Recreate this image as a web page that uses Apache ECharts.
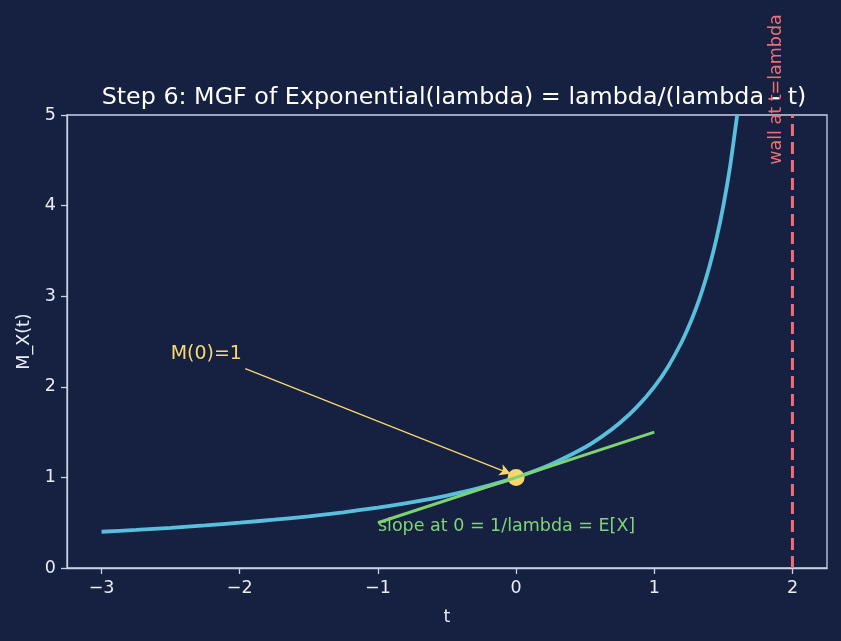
<!DOCTYPE html>
<html>
<head>
<meta charset="utf-8">
<script src="https://cdn.jsdelivr.net/npm/echarts@6/dist/echarts.min.js"></script>
<style>
html,body{margin:0;padding:0;background:#162040;}
#chart{width:841px;height:641px;}
</style>
</head>
<body>
<div id="chart"></div>
<script>
// MGF curve samples
var tValues = [-3, -2.75, -2.5, -2.25, -2, -1.75, -1.5, -1.25, -1, -0.75, -0.5, -0.25, 0, 0.25, 0.5, 0.625, 0.75, 0.875, 1, 1.1, 1.2, 1.25, 1.3, 1.35, 1.4, 1.45, 1.5, 1.55, 1.6];
var mValues = [0.4, 0.421, 0.444, 0.471, 0.5, 0.533, 0.571, 0.615, 0.667, 0.727, 0.8, 0.889, 1, 1.143, 1.333, 1.455, 1.6, 1.778, 2, 2.222, 2.5, 2.667, 2.857, 3.077, 3.333, 3.636, 4, 4.444, 5];
// tangent (slope) line end points
var slopeT = [-1, 1];
var slopeY = [0.5, 1.5];
// highlighted point M(0)=1
var pointT = [0];
var pointY = [1];
// wall at t = lambda
var wallT = 2;
var wallY = [0, 5];
// annotation texts and anchors
var titleText = 'Step 6: MGF of Exponential(lambda) = lambda/(lambda - t)';
var xName = 't';
var yName = 'M_X(t)';
var m0Label = 'M(0)=1';
var m0Anchor = [-2.5, 2.36];
var arrowFrom = [-1.96, 2.2];
var arrowTo = [-0.04, 1.04];
var slopeLabel = 'slope at 0 = 1/lambda = E[X]';
var slopeAnchor = [-1.0, 0.464];
var wallLabel = 'wall at t=lambda';
var wallAnchor = [1.884, 4.45];

var AX = '#c9d1e6';
var FONT = 'DejaVu Sans';
function fmtMinus(v){ return String(v).replace('-', '\u2212'); }

var curveData = tValues.map(function(t, i){ return [t, mValues[i]]; });
var slopeData = slopeT.map(function(t, i){ return [t, slopeY[i]]; });
var pointData = pointT.map(function(t, i){ return [t, pointY[i]]; });

var chart = echarts.init(document.getElementById('chart'), null, {renderer: 'canvas'});
chart.setOption({
  backgroundColor: '#162040',
  animation: false,
  title: {
    text: titleText,
    left: 449, top: 81, textAlign: 'center',
    textStyle: {color: '#ffffff', fontFamily: FONT, fontSize: 23.8, fontWeight: 'normal'}
  },
  grid: {left: 67, right: 14, top: 115, bottom: 73, show: true, borderColor: AX, borderWidth: 1.3, backgroundColor: 'transparent'},
  xAxis: {
    type: 'value', min: -3.25, max: 2.25, splitNumber: 5,
    name: xName, nameLocation: 'middle', nameGap: 40,
    nameTextStyle: {color: '#e8ecf4', fontFamily: FONT, fontSize: 17.5},
    axisLine: {show: true, onZero: false, lineStyle: {color: AX, width: 1.3}},
    axisTick: {show: true, length: 6, inside: false, lineStyle: {color: AX, width: 1.3}},
    axisLabel: {color: '#e8ecf4', fontFamily: FONT, fontSize: 17.5, margin: 11, showMinLabel: false, showMaxLabel: false, formatter: fmtMinus},
    splitLine: {show: false}
  },
  yAxis: {
    type: 'value', min: 0, max: 5, interval: 1,
    name: yName, nameLocation: 'middle', nameGap: 34,
    nameTextStyle: {color: '#e8ecf4', fontFamily: FONT, fontSize: 17.5},
    axisLine: {show: true, onZero: false, lineStyle: {color: AX, width: 1.3}},
    axisTick: {show: true, length: 6, inside: false, lineStyle: {color: AX, width: 1.3}},
    axisLabel: {color: '#e8ecf4', fontFamily: FONT, fontSize: 17.5, margin: 11},
    splitLine: {show: false}
  },
  series: [
    {
      type: 'line', data: curveData, smooth: 0.2, showSymbol: false, clip: true,
      lineStyle: {color: '#58c0dc', width: 3.8}, z: 2
    },
    {
      type: 'line', data: [[wallT, wallY[0]], [wallT, wallY[1]]], showSymbol: false,
      lineStyle: {color: '#f06d78', width: 3, type: [12, 6]}, z: 2
    },
    {
      type: 'scatter', data: pointData, symbolSize: 17,
      itemStyle: {color: '#f8d66c', opacity: 1}, z: 3
    },
    {
      type: 'line', data: slopeData, showSymbol: false,
      lineStyle: {color: '#7dd271', width: 3}, z: 4,
      markLine: {
        silent: true, symbol: ['none', 'arrow'], symbolSize: [9, 11],
        lineStyle: {color: '#f6d66e', width: 1.4, type: 'solid', opacity: 1},
        label: {show: false},
        data: [[{coord: arrowFrom}, {coord: arrowTo}]]
      }
    },
    {
      type: 'scatter', symbolSize: 0, clip: false, z: 5,
      itemStyle: {opacity: 1},
      data: [
        {value: m0Anchor, label: {formatter: m0Label, color: '#f8d870', fontSize: 19}},
        {value: slopeAnchor, label: {formatter: slopeLabel, color: '#80d474', fontSize: 17.5}}
      ],
      label: {show: true, position: 'right', distance: 0, align: 'left', verticalAlign: 'middle', fontFamily: FONT}
    },
    {
      type: 'scatter', symbolSize: 0, clip: false, z: 5,
      itemStyle: {opacity: 1},
      data: [{value: wallAnchor}],
      label: {show: true, formatter: wallLabel, position: 'right', distance: 0, align: 'left', verticalAlign: 'middle',
              rotate: 90, color: '#f06d78', fontSize: 17.5, fontFamily: FONT}
    }
  ]
});
</script>
</body>
</html>
